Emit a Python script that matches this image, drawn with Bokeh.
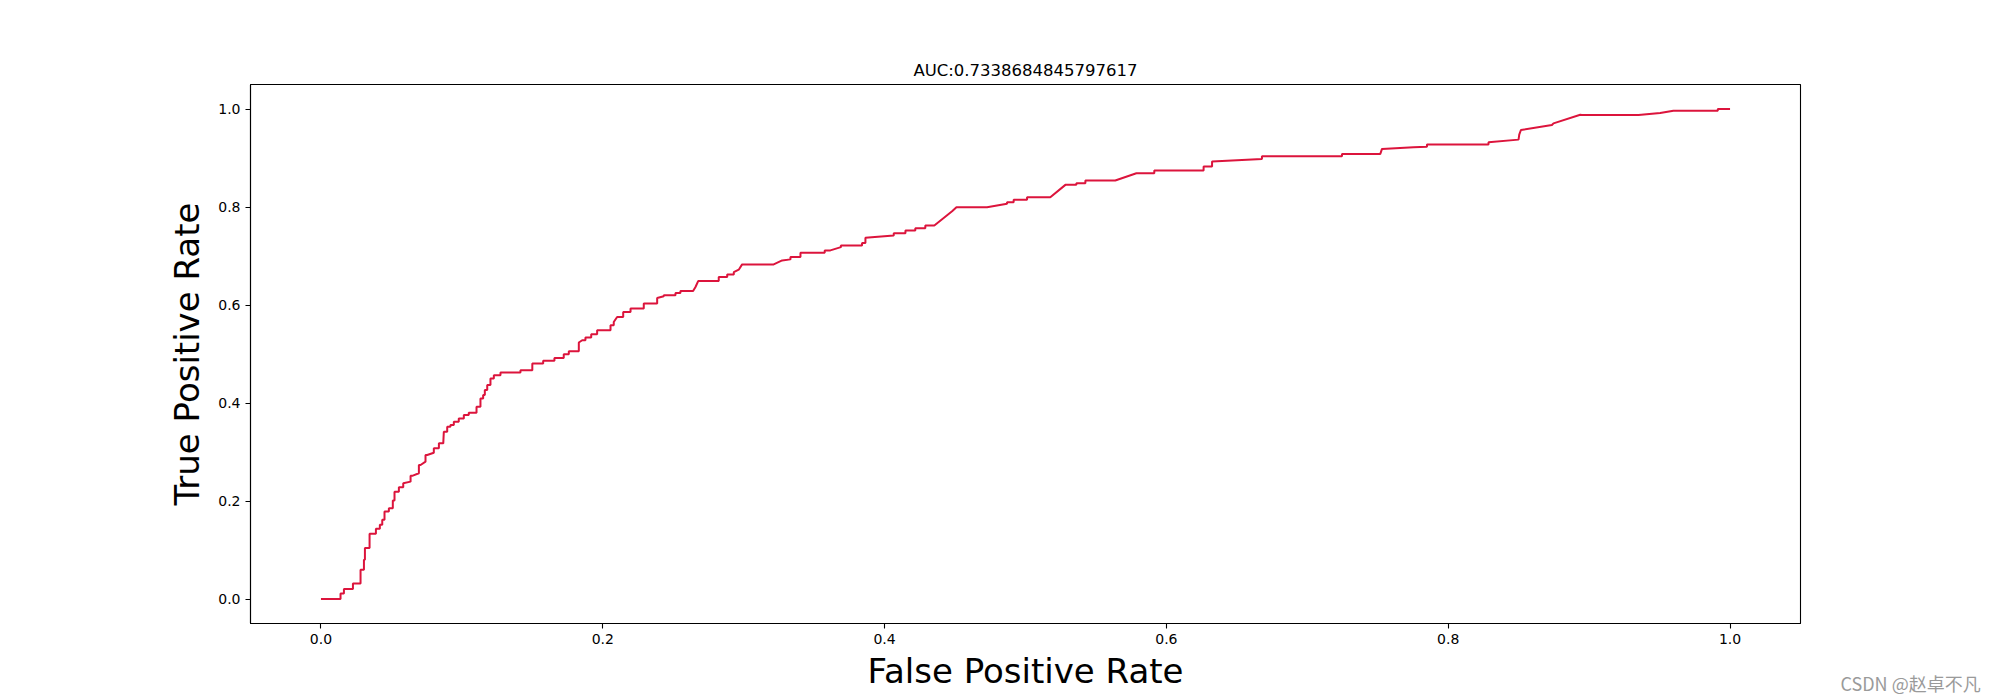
from bokeh.plotting import figure
from bokeh.models import Range1d, FixedTicker, PrintfTickFormatter, Label
from bokeh.embed import file_html
from bokeh.resources import INLINE

# ROC curve points
fpr = [0.0, 0.0139, 0.0139, 0.0163, 0.0163, 0.0227, 0.0227, 0.0281, 0.0281, 0.0305,
       0.0305, 0.0312, 0.0312, 0.0345, 0.0345, 0.039, 0.039, 0.0418, 0.0418, 0.0435,
       0.0435, 0.0451, 0.0451, 0.0482, 0.0482, 0.0510, 0.0510, 0.0522, 0.0522, 0.0553,
       0.0553, 0.0584, 0.0584, 0.0636, 0.0636, 0.0652, 0.0695, 0.0695, 0.0707, 0.0742,
       0.0742, 0.0754, 0.0801, 0.0801,
       0.0837, 0.0837, 0.0868, 0.0872, 0.0896, 0.0896, 0.0919, 0.0919, 0.0943, 0.0943,
       0.0978, 0.0978, 0.1014, 0.1014, 0.1049, 0.1049, 0.1104, 0.1104, 0.1132, 0.1132,
       0.1151, 0.1151, 0.1163, 0.1163, 0.118, 0.118, 0.1203, 0.1203, 0.1227, 0.1227,
       0.1274, 0.1274, 0.1416,
       0.1416, 0.150, 0.150, 0.1577, 0.1577, 0.1657,
       0.1657, 0.1723, 0.1723, 0.1759, 0.1759, 0.183, 0.183, 0.1854, 0.1877, 0.1877,
       0.1918, 0.1918, 0.196, 0.196, 0.2055, 0.2055, 0.2078, 0.2078, 0.2102, 0.2145,
       0.2145, 0.2197, 0.2197, 0.2291, 0.2291, 0.2386, 0.2386, 0.2433, 0.2433, 0.2516,
       0.2516, 0.2551, 0.2551, 0.2641, 0.2658, 0.2677, 0.2823, 0.2823, 0.2883, 0.2883,
       0.293, 0.293, 0.2965, 0.2989, 0.3213, 0.3273, 0.3332, 0.3332, 0.3403, 0.3403,
       0.3575, 0.3575, 0.3615, 0.369, 0.369, 0.384, 0.384, 0.3864, 0.3864, 0.4065,
       0.4065, 0.4148, 0.4148, 0.4218, 0.4218, 0.4289, 0.4289, 0.4353, 0.4479, 0.451,
       0.4727, 0.4869, 0.4869, 0.4916, 0.4916, 0.5011, 0.5011, 0.5176, 0.5283, 0.5361,
       0.5361, 0.5425, 0.5425, 0.5637, 0.5787, 0.5914, 0.5914, 0.6264, 0.6264, 0.6324,
       0.6324, 0.6678, 0.6678, 0.7246, 0.7246, 0.7518, 0.7518, 0.753, 0.7754, 0.7849,
       0.7849, 0.8286, 0.8286, 0.8499, 0.8504, 0.8516, 0.8736, 0.8747, 0.8937, 0.8948,
       0.935, 0.9504, 0.9598, 0.9913, 0.9913, 1.0]
tpr = [0.0, 0.0, 0.0114, 0.0114, 0.0203, 0.0203, 0.0318, 0.0318, 0.0597, 0.0597,
       0.080, 0.080, 0.1039, 0.1039, 0.133, 0.133, 0.1432, 0.1432, 0.1513, 0.1513,
       0.1615, 0.1615, 0.1785, 0.1785, 0.1853, 0.1853, 0.2008, 0.2008, 0.2191, 0.2191,
       0.2281, 0.2281, 0.2363, 0.2395, 0.2517, 0.2517, 0.2566, 0.2735, 0.2735, 0.2803,
       0.2939, 0.2939, 0.2986, 0.3075,
       0.3075, 0.3177, 0.3177, 0.3413, 0.3413, 0.3515, 0.3515, 0.3553, 0.3553, 0.3617,
       0.3617, 0.3686, 0.3686, 0.3754, 0.3754, 0.380, 0.380, 0.3923, 0.3923, 0.4094,
       0.4094, 0.4161, 0.4161, 0.4263, 0.4263, 0.4365, 0.4365, 0.4501, 0.4501, 0.4568,
       0.4568, 0.4623, 0.4623,
       0.467, 0.467, 0.4807, 0.4807, 0.486, 0.486,
       0.492, 0.492, 0.4996, 0.4996, 0.5057, 0.5057, 0.5234, 0.5281, 0.5281, 0.5336,
       0.5336, 0.5403, 0.5403, 0.5485, 0.5485, 0.5587, 0.5587, 0.5654, 0.5756, 0.5756,
       0.5857, 0.5857, 0.5927, 0.5927, 0.6029, 0.6029, 0.6143, 0.6177, 0.6198, 0.6198,
       0.6245, 0.6245, 0.6285, 0.6285, 0.6367, 0.6489, 0.6489, 0.657, 0.657, 0.6625,
       0.6625, 0.6672, 0.6721, 0.6829, 0.6829, 0.691, 0.6931, 0.6978, 0.6978, 0.7067,
       0.7067, 0.7114, 0.7114, 0.7181, 0.7216, 0.7216, 0.7263, 0.7263, 0.7373, 0.742,
       0.7466, 0.7466, 0.7521, 0.7521, 0.7568, 0.7568, 0.7623, 0.7623, 0.7914, 0.7996,
       0.7996, 0.8065, 0.8098, 0.8098, 0.8147, 0.8147, 0.82, 0.82, 0.8452, 0.8452,
       0.8485, 0.8485, 0.854, 0.854, 0.8689, 0.8689, 0.8743, 0.8743, 0.8825, 0.8825,
       0.8927, 0.8982, 0.9035, 0.9035, 0.9084, 0.9084, 0.9084, 0.9185, 0.9218, 0.9232,
       0.9273, 0.9273, 0.932, 0.9375, 0.9477, 0.9572, 0.9674, 0.9707, 0.9884, 0.9878,
       0.9878, 0.9918, 0.9965, 0.9965, 1.0, 1.0]

title_text = "AUC:0.7338684845797617"
x_label = "False Positive Rate"
y_label = "True Positive Rate"
tick_values = [0.0, 0.2, 0.4, 0.6, 0.8, 1.0]
watermark = "CSDN @赵卓不凡"

FONT = "DejaVu Sans"

p = figure(width=2000, height=700, output_backend="svg", toolbar_location=None,
           x_range=Range1d(-0.05, 1.05), y_range=Range1d(-0.05, 1.05),
           min_border_left=250, min_border_right=200, min_border_top=84,
           min_border_bottom=77, background_fill_color="white",
           border_fill_color="white")

p.title.text = title_text
p.title.align = "center"
p.title.text_font = FONT
p.title.text_font_size = "16.5px"
p.title.text_font_style = "normal"
p.title.text_color = "black"

p.line(fpr, tpr, line_color="crimson", line_width=2)

p.grid.visible = False
p.outline_line_color = "black"
p.outline_line_width = 1.1
p.outline_line_alpha = 1.0

for ax in (p.xaxis[0], p.yaxis[0]):
    ax.ticker = FixedTicker(ticks=tick_values)
    ax.formatter = PrintfTickFormatter(format="%.1f")
    ax.minor_tick_line_color = None
    ax.major_tick_out = 5
    ax.major_tick_in = 0
    ax.major_tick_line_color = "black"
    ax.major_tick_line_width = 1.1
    ax.axis_line_color = "black"
    ax.axis_line_width = 1.1
    ax.major_label_text_font = FONT
    ax.major_label_text_font_size = "14px"
    ax.major_label_text_color = "black"
    ax.major_label_standoff = 5
    ax.axis_label_text_font = FONT
    ax.axis_label_text_font_size = "34px"
    ax.axis_label_text_font_style = "normal"
    ax.axis_label_text_color = "black"

p.xaxis.axis_label = x_label
p.yaxis.axis_label = y_label
p.xaxis.axis_label_standoff = 4
p.yaxis.axis_label_standoff = 8

# watermark in the lower-right corner; placed in the right side panel so it
# is not clipped to the plotting frame
wm = Label(x=1840, y=682, x_units="canvas", y_units="canvas", text=watermark,
           text_font="Noto Sans CJK SC", text_font_size="18px", text_color="#9a9a9a",
           text_baseline="middle", text_align="left")
p.add_layout(wm, "right")

open("out.html", "w").write(file_html(p, INLINE))
